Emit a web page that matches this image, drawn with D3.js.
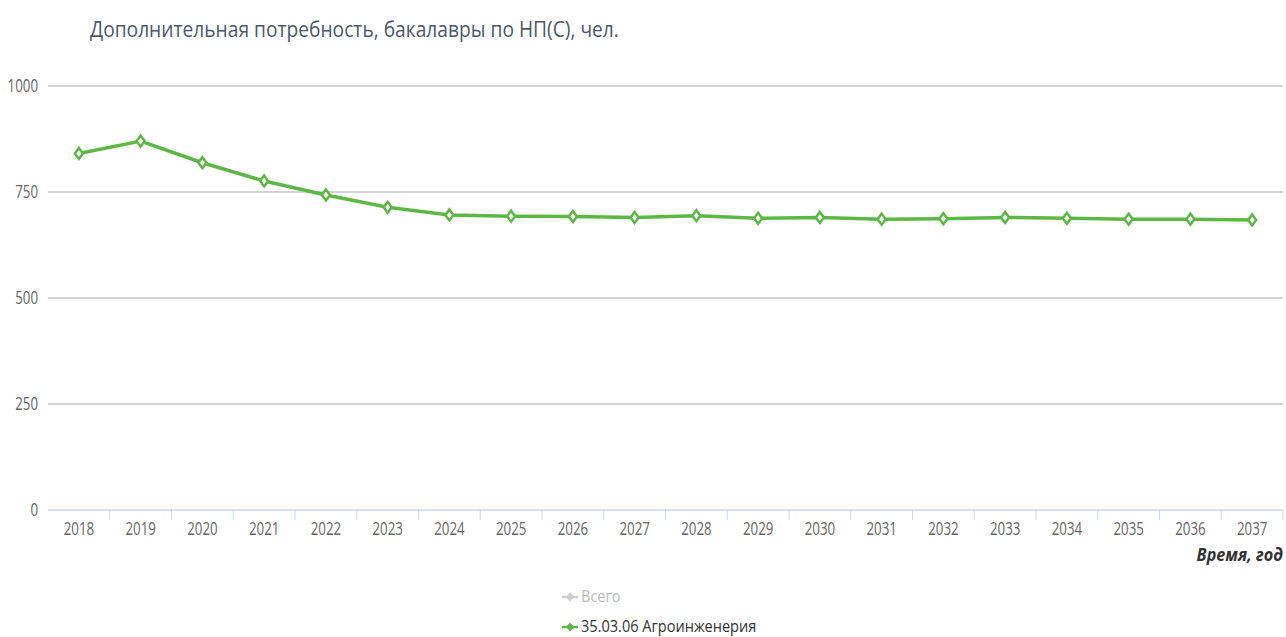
<!DOCTYPE html>
<html lang="ru">
<head>
  <meta charset="UTF-8">
  <title>Дополнительная потребность</title>
  <style>
    body { margin: 0; background: #fff; }
    svg { display: block; font-family: "Open Sans", sans-serif; }
  </style>
</head>
<body>
  <script src="https://d3js.org/d3.v7.min.js"></script>
  <script>
    const years = ["2018", "2019", "2020", "2021", "2022", "2023", "2024", "2025", "2026", "2027",
                   "2028", "2029", "2030", "2031", "2032", "2033", "2034", "2035", "2036", "2037"];
    const agro = [841, 870, 819, 776, 743, 714, 696, 693, 692, 690,
                  694, 688, 690, 686, 687, 690, 688, 686, 686, 684];
    const yTicks = [0, 250, 500, 750, 1000];
    const legendItems = ["Всего", "35.03.06 Агроинженерия"];

    const width = 1286, height = 637;
    const plotLeft = 48, plotRight = 1283, plotTop = 86, plotBottom = 510;
    const green = "#5cb845";
    const squeeze = 0.74; // the source font is a narrow one

    const svg = d3.select("body").append("svg")
      .attr("width", width)
      .attr("height", height);

    const x = d3.scaleBand().domain(years).range([plotLeft, plotRight]);
    const y = d3.scaleLinear().domain([0, 1000]).range([plotBottom, plotTop]);

    const narrow = (tx, ty, k = squeeze) => `translate(${tx},${ty}) scale(${k},1)`;

    // title
    svg.append("text")
      .attr("transform", narrow(90, 37, 0.873))
      .attr("font-size", 22).attr("fill", "#4c5868")
      .text("Дополнительная потребность, бакалавры по НП(С), чел.");

    // grid
    svg.append("g").selectAll("line")
      .data(yTicks.filter(d => d > 0))
      .join("line")
      .attr("x1", plotLeft).attr("x2", plotRight)
      .attr("y1", d => y(d)).attr("y2", d => y(d))
      .attr("stroke", "#c4c4c4").attr("stroke-width", 1.6);

    svg.append("g").selectAll("text")
      .data(yTicks)
      .join("text")
      .attr("transform", d => narrow(38, y(d) + 6))
      .attr("text-anchor", "end")
      .attr("font-size", 18).attr("fill", "#666")
      .text(d => d);

    // x axis
    const xAxis = svg.append("g");
    xAxis.append("line")
      .attr("x1", plotLeft).attr("x2", plotRight)
      .attr("y1", plotBottom).attr("y2", plotBottom)
      .attr("stroke", "#ccd6eb").attr("stroke-width", 1.5);
    xAxis.selectAll(".tick")
      .data(years)
      .join("line")
      .attr("class", "tick")
      .attr("x1", d => x(d) + x.bandwidth()).attr("x2", d => x(d) + x.bandwidth())
      .attr("y1", plotBottom).attr("y2", plotBottom + 10)
      .attr("stroke", "#ccd6eb");
    xAxis.selectAll("text")
      .data(years)
      .join("text")
      .attr("transform", d => narrow(x(d) + x.bandwidth() / 2, plotBottom + 25))
      .attr("text-anchor", "middle")
      .attr("font-size", 18).attr("fill", "#666")
      .text(d => d);

    svg.append("text")
      .attr("transform", narrow(plotRight, 561, 0.9))
      .attr("text-anchor", "end")
      .attr("font-size", 18).attr("font-weight", "bold").attr("font-style", "italic")
      .attr("fill", "#333")
      .text("Время, год");

    // series
    const pts = years.map((yr, i) => [x(yr) + x.bandwidth() / 2, y(agro[i])]);
    svg.append("path")
      .attr("d", d3.line()(pts))
      .attr("fill", "none")
      .attr("stroke", green).attr("stroke-width", 3.5)
      .attr("stroke-linejoin", "round");

    const diamond = (cx, cy, w, h) =>
      `M${cx},${cy - h}L${cx + w},${cy}L${cx},${cy + h}L${cx - w},${cy}Z`;

    svg.append("g").selectAll("path")
      .data(pts)
      .join("path")
      .attr("d", d => diamond(d[0], d[1], 4, 5.5))
      .attr("fill", "#fff")
      .attr("stroke", green).attr("stroke-width", 2.5);

    // legend
    const legend = svg.append("g");
    const legColors = ["#cccccc", green];
    const legText = ["#bbbbbb", "#333"];
    legendItems.forEach((name, i) => {
      const ly = 597 + i * 30;
      legend.append("line")
        .attr("x1", 562).attr("x2", 578)
        .attr("y1", ly).attr("y2", ly)
        .attr("stroke", legColors[i]).attr("stroke-width", 2.5);
      legend.append("path")
        .attr("d", diamond(570, ly, 4, 4.5))
        .attr("fill", legColors[i]);
      legend.append("text")
        .attr("transform", narrow(581, ly + 5, 0.91))
        .attr("font-size", 16).attr("fill", legText[i])
        .text(name);
    });
  </script>
</body>
</html>
